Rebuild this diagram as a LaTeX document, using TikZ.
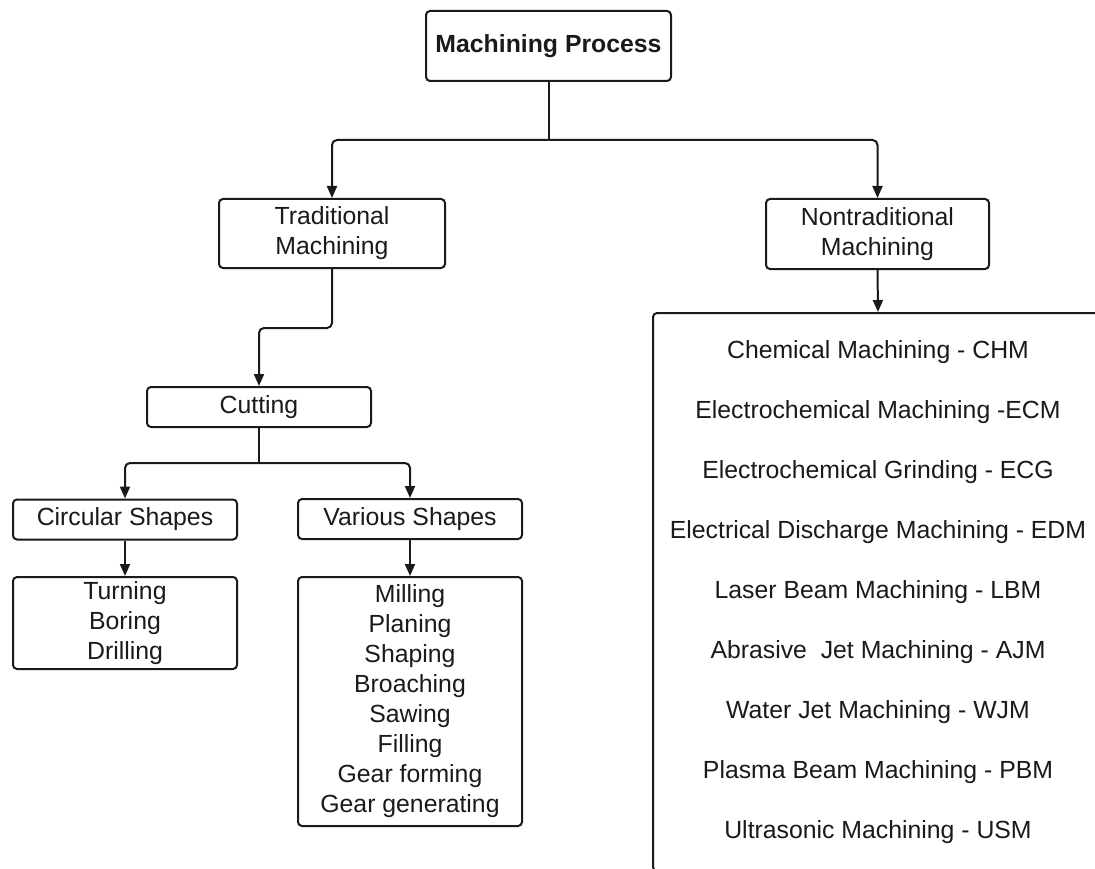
\documentclass[tikz,border=0pt]{standalone}
\usepackage{fontspec}
\setmainfont{Liberation Sans}
\usetikzlibrary{arrows.meta}
\definecolor{ink}{HTML}{1A1A1A}
\tikzset{
  box/.style={draw=ink, line width=2pt, rounded corners=4pt, fill=white,
    align=center, text=ink, inner sep=0pt,
    font=\fontsize{24.8}{30}\selectfont},
  conn/.style={draw=ink, line width=2pt, rounded corners=5pt,
    -{Triangle[length=12pt,width=10pt]}},
  trunk/.style={draw=ink, line width=2pt, rounded corners=5pt}
}
\begin{document}
\begin{tikzpicture}[x=1pt,y=-1pt]
\useasboundingbox (0,0) rectangle (1095,869);
\clip (0,0) rectangle (1095,869);
\fill[white] (0,0) rectangle (1095,869);

\node[box, minimum width=245pt, minimum height=70pt] (mp) at (548.5,46) {\textbf{Machining Process}};
\node[box, minimum width=226pt, minimum height=69pt] (trad) at (332,233.5) {Traditional\\Machining};
\node[box, minimum width=223pt, minimum height=70pt] (nontrad) at (877.5,234) {Nontraditional\\Machining};
\node[box, minimum width=224pt, minimum height=40pt] (cut) at (259,407) {Cutting};
\node[box, minimum width=224pt, minimum height=40pt] (circ) at (125,519.5) {Circular Shapes};
\node[box, minimum width=224pt, minimum height=40pt] (var) at (410,519) {Various Shapes};
\node[box, minimum width=224pt, minimum height=92pt] (turn) at (125,623) {Turning\\Boring\\Drilling};
\node[box, minimum width=224pt, minimum height=249pt] (mill) at (410,701.5) {Milling\\Planing\\Shaping\\Broaching\\Sawing\\Filling\\Gear forming\\Gear generating};
\node[box, minimum width=450pt, minimum height=558pt, font=\fontsize{24.8}{60}\selectfont] (big) at (878,592)
  {Chemical Machining - CHM\\
   Electrochemical Machining -ECM\\
   Electrochemical Grinding - ECG\\
   Electrical Discharge Machining - EDM\\
   Laser Beam Machining - LBM\\
   Abrasive~ Jet Machining - AJM\\
   Water Jet Machining - WJM\\
   Plasma Beam Machining - PBM\\
   Ultrasonic Machining - USM};

\coordinate (split1) at (548.5,140);
\coordinate (tb) at (0,328);
\coordinate (split2) at (259,463);

\draw[trunk] (mp.south) -- (split1);
\draw[conn] (split1) -| (trad.north);
\draw[conn] (split1) -| (nontrad.north);
\draw[conn] (trad.south) |- (cut.north |- tb) -- (cut.north);
\draw[trunk] (cut.south) -- (split2);
\draw[conn] (split2) -| (circ.north);
\draw[conn] (split2) -| (var.north);
\draw[conn] (circ.south) -- (turn.north);
\draw[conn] (var.south) -- (mill.north);
\draw[conn] (nontrad.south) -- (big.north);
\end{tikzpicture}
\end{document}
